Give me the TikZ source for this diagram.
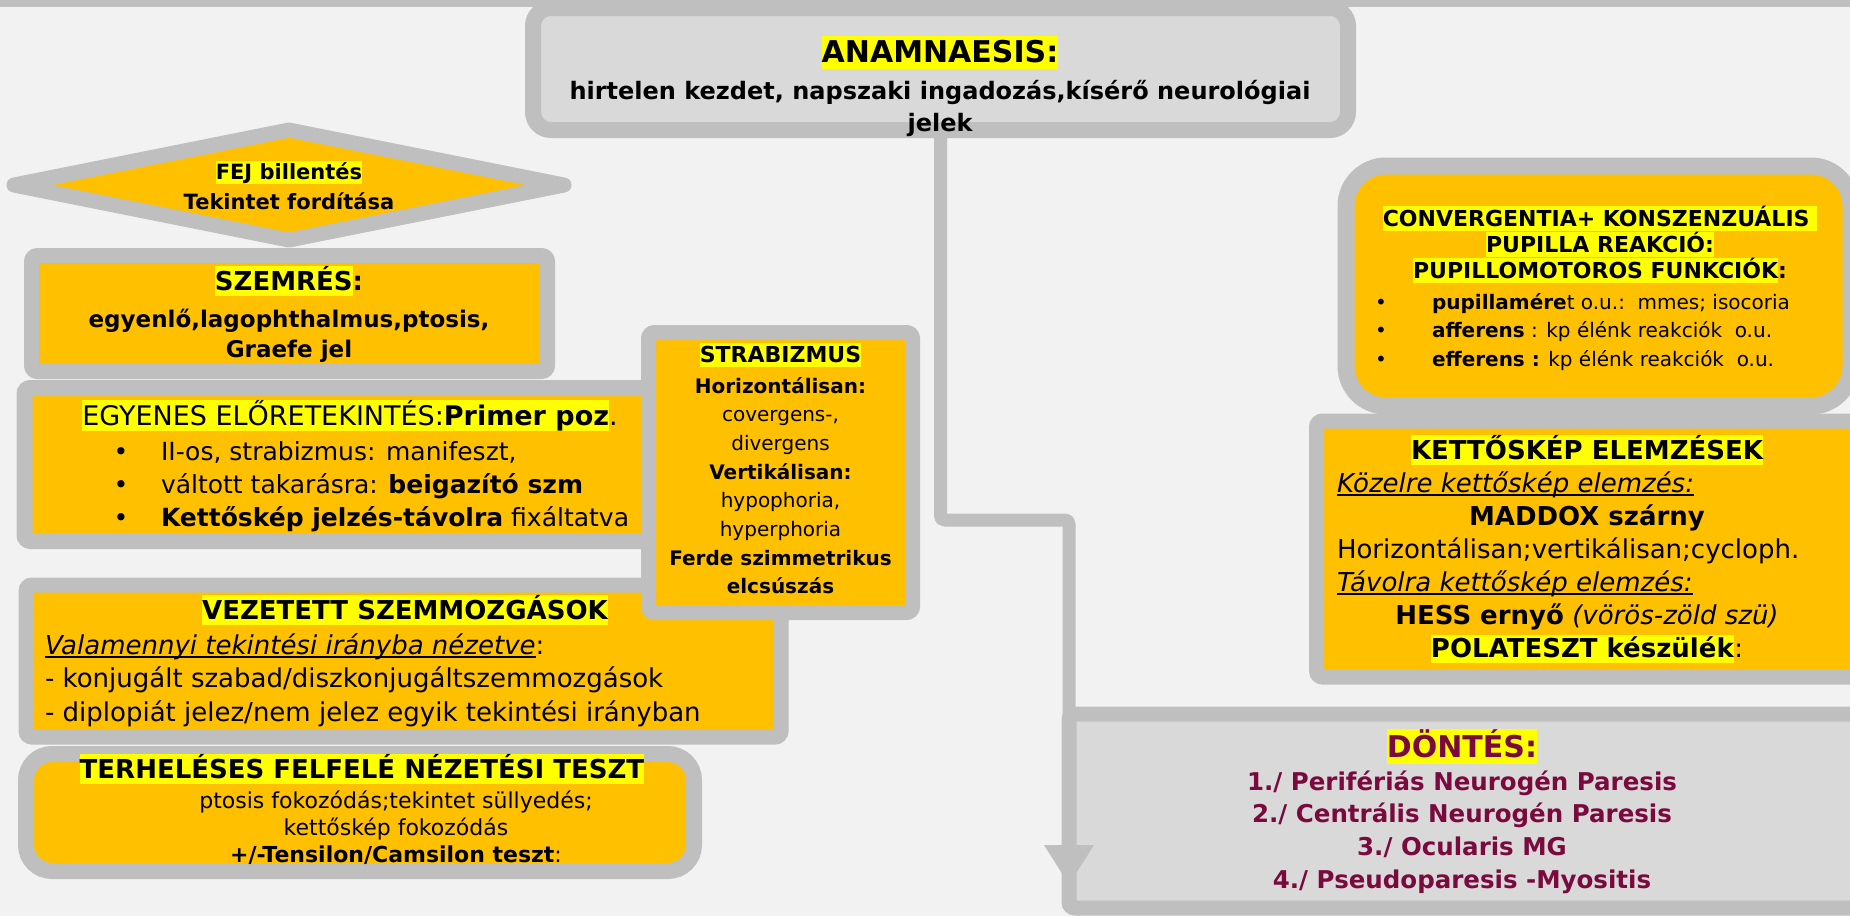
\documentclass[tikz,border=0pt]{standalone}
\usepackage{fontspec}
\setmainfont{DejaVu Sans}
\usetikzlibrary{arrows.meta,calc,shapes.geometric}

\definecolor{bgc}{HTML}{F2F2F2}
\definecolor{rim}{HTML}{BFBFBF}
\definecolor{amber}{HTML}{FFC000}
\definecolor{pale}{HTML}{D9D9D9}
\definecolor{hly}{HTML}{FFFF00}
\definecolor{wine}{HTML}{7A0A3E}

\setlength\lineskiplimit{-200pt}
\setlength\lineskip{0pt}

\newcommand\fs[2]{\fontsize{#1}{#2}\selectfont}
\newcommand\hl[1]{{\setlength\fboxsep{0pt}\colorbox{hly}{\rule[-0.24em]{0pt}{1.1em}#1}}}
\newsavebox\ulbox
\newcommand\ulin[1]{\sbox\ulbox{#1}\rlap{\rule[-0.16em]{\wd\ulbox}{0.07em}}\usebox\ulbox}
\newcommand\bul[1]{\makebox[40pt]{•}\hspace{#1}}

\tikzset{
  panel/.style={draw=rim, fill=amber, inner sep=0pt, outer sep=0pt, rectangle},
  greypanel/.style={panel, fill=pale},
  txt/.style={inner sep=0pt, outer sep=0pt, text=black},
  conn/.style={draw=rim, line width=13pt, rounded corners=4pt, line join=round}
}

\begin{document}
\begin{tikzpicture}[x=1pt,y=1pt]
\useasboundingbox (0,0) rectangle (1850,-916);
\fill[bgc] (0,0) rectangle (1850,-916);

% header strip
\fill[rim] (0,0) rectangle (1850,-7);

% ---------- left column ----------
\node[panel, shape=diamond, line width=15pt, line join=round,
      minimum width=550pt, minimum height=110pt] (fej) at (289,-185) {};
\node[panel, line width=15pt, rounded corners=6pt,
      minimum width=516pt, minimum height=116pt] (szem) at (289.5,-313.5) {};
\node[panel, line width=16pt, rounded corners=6pt,
      minimum width=630pt, minimum height=153pt] (egy) at (339.5,-464.5) {};
\node[panel, line width=15pt, rounded corners=6pt,
      minimum width=755pt, minimum height=152pt] (vez) at (403.5,-661) {};
\node[panel, line width=15pt, rounded corners=6pt,
      minimum width=264pt, minimum height=280pt] (strab) at (780.5,-472.5) {};
\node[panel, line width=16pt, rounded corners=26pt,
      minimum width=668pt, minimum height=117pt] (terh) at (360,-812.5) {};

% ---------- top and right column ----------
\node[greypanel, line width=16pt, rounded corners=18pt,
      minimum width=815pt, minimum height=122pt] (anam) at (940.5,-69) {};
\node[panel, line width=17pt, rounded corners=40pt,
      minimum width=505pt, minimum height=240pt] (conv) at (1598.5,-286) {};
\node[panel, line width=15pt, rounded corners=6pt,
      minimum width=554pt, minimum height=256pt] (kett) at (1593.5,-549) {};
\node[greypanel, line width=15pt, rounded corners=6pt,
      minimum width=801pt, minimum height=194pt] (dont) at (1469.5,-811) {};

% ---------- connector ----------
\coordinate (bend) at ($(anam.south)+(0,-390)$);
\coordinate (tip) at ($(dont.south west)+(0,23)$);
\draw[conn, -{Triangle[length=40pt,width=47pt]}]
  (anam.south) -- (bend) -| (tip);

% ---------- texts ----------
\node[txt, anchor=base] (anamT) at (940,-62)
  {\fs{30}{36}\bfseries\hl{ANAMNAESIS:}};
\node[txt, anchor=base] (anamB) at (940,-99)
  {\parbox[t]{820pt}{\centering\fs{24}{32}\bfseries
   hirtelen kezdet, napszaki ingadozás,kísérő neurológiai\\jelek}};

\node[txt, anchor=base] (fejT) at (289,-179)
  {\parbox[t]{300pt}{\centering\fs{21}{30}\bfseries
   \hl{FEJ billentés}\\Tekintet fordítása}};

\node[txt, anchor=base] (szemT) at (289,-290)
  {\fs{26}{32}\bfseries\hl{SZEMRÉS}:};
\node[txt, anchor=base] (szemB) at (289,-327)
  {\parbox[t]{500pt}{\centering\fs{23}{30}\bfseries
   egyenlő,lagophthalmus,ptosis,\\Graefe jel}};

\node[txt, anchor=base] (egyT) at (350,-425)
  {\fs{27}{33}\hl{EGYENES ELŐRETEKINTÉS:\textbf{Primer poz}}.};
\node[txt, anchor=base west] (egyB) at (101,-460)
  {\parbox[t]{560pt}{\raggedright\fs{25}{33}
   \bul{20pt}II-os, strabizmus: manifeszt,\\
   \bul{20pt}váltott takarásra: \textbf{beigazító szm}\\
   \bul{20pt}\textbf{Kettőskép jelzés-távolra} fixáltatva}};

\node[txt, anchor=base] (strabT) at (780.5,-362)
  {\fs{22}{28}\bfseries\hl{STRABIZMUS}};
\node[txt, anchor=base] (strabB) at (780.5,-393)
  {\parbox[t]{260pt}{\centering\fs{20}{28.7}
   \textbf{Horizontálisan:}\\covergens-,\\divergens\\
   \textbf{Vertikálisan:}\\hypophoria,\\hyperphoria\\
   \textbf{Ferde szimmetrikus}\\\textbf{elcsúszás}}};

\node[txt, anchor=base] (vezT) at (405,-619)
  {\fs{26}{33}\bfseries\hl{VEZETETT SZEMMOZGÁSOK}};
\node[txt, anchor=base west] (vezB) at (45,-654)
  {\parbox[t]{740pt}{\raggedright\fs{26}{33.5}
   \textit{\ulin{Valamennyi tekintési irányba nézetve}}:\\
   - konjugált szabad/diszkonjugáltszemmozgások\\
   - diplopiát jelez/nem jelez egyik tekintési irányban}};

\node[txt, anchor=base] (terhT) at (362,-778)
  {\fs{26}{32}\bfseries\hl{TERHELÉSES FELFELÉ NÉZETÉSI TESZT}};
\node[txt, anchor=base] (terhB) at (396,-808)
  {\parbox[t]{600pt}{\centering\fs{22}{27}
   ptosis fokozódás;tekintet süllyedés;\\
   kettőskép fokozódás\\
   \textbf{+/-Tensilon/Camsilon teszt}:}};

\node[txt, anchor=base] (convT) at (1600,-226)
  {\parbox[t]{500pt}{\centering\fs{22}{26}\bfseries
   \hl{CONVERGENTIA+ KONSZENZUÁLIS\ }\\
   \hl{PUPILLA REAKCIÓ:}\\
   \hl{PUPILLOMOTOROS FUNKCIÓK}:}};
\node[txt, anchor=base west] (convB) at (1361,-309)
  {\parbox[t]{480pt}{\raggedright\fs{20}{28.5}
   \bul{31pt}\textbf{pupillamére}t o.u.:\ \ mmes; isocoria\\
   \bul{31pt}\textbf{afferens} : kp élénk reakciók\ \ o.u.\\
   \bul{31pt}\textbf{efferens :} kp élénk reakciók\ \ o.u.}};

\node[txt, anchor=base west] (kettT) at (1337,-459)
  {\parbox[t]{500pt}{\raggedright\fs{26}{33}
   \makebox[500pt]{\textbf{\hl{KETTŐSKÉP ELEMZÉSEK}}}\\
   \textit{\ulin{Közelre kettőskép elemzés:}}\\
   \makebox[500pt]{\textbf{MADDOX szárny}}\\
   Horizontálisan;vertikálisan;cycloph.\\
   \textit{\ulin{Távolra kettőskép elemzés:}}\\
   \makebox[500pt]{\textbf{HESS ernyő} \textit{(vörös-zöld szü)}}\\
   \makebox[500pt]{\hl{\textbf{POLATESZT készülék}}:}}};

\node[txt, anchor=base, text=wine] (dontT) at (1462,-757)
  {\fs{30}{36}\bfseries\hl{DÖNTÉS:}};
\node[txt, anchor=base, text=wine] (dontB) at (1462,-790)
  {\parbox[t]{700pt}{\centering\fs{24.5}{32.7}\bfseries
   1./ Perifériás Neurogén Paresis\\
   2./ Centrális Neurogén Paresis\\
   3./ Ocularis MG\\
   4./ Pseudoparesis -Myositis}};
\end{tikzpicture}
\end{document}
